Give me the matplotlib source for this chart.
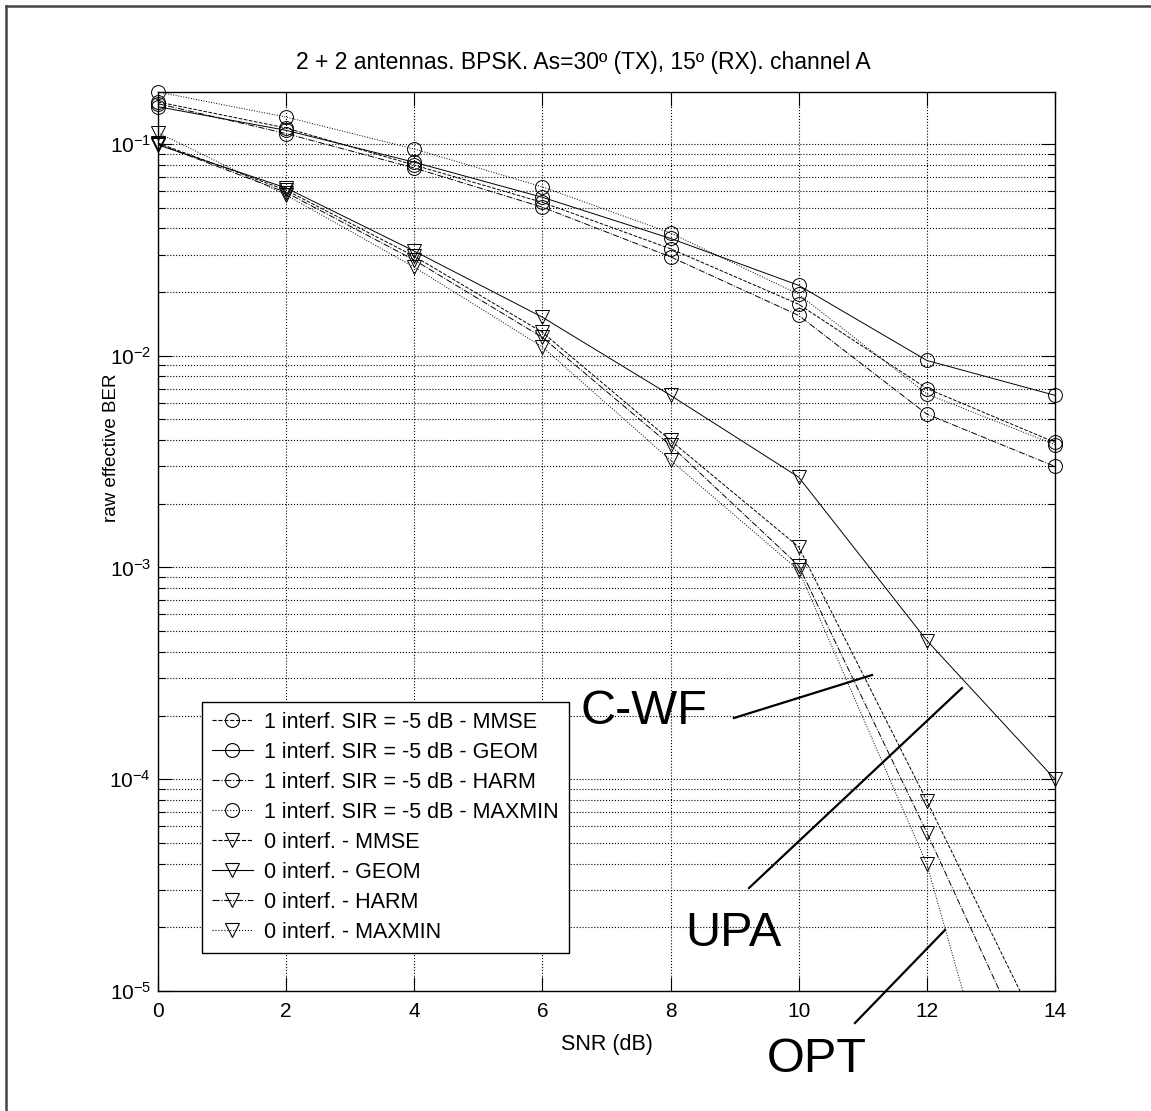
import numpy as np
import matplotlib
matplotlib.use('Agg')
import matplotlib.pyplot as plt
from matplotlib.lines import Line2D

plt.rcParams['font.family'] = ['Liberation Sans', 'DejaVu Sans']
plt.rcParams['mathtext.fontset'] = 'custom'
plt.rcParams['mathtext.rm'] = 'Liberation Sans'

# data
snr = [0, 2, 4, 6, 8, 10, 12, 14]

# 1 interferer, SIR = -5 dB (circles)
i1_mmse = [0.158, 0.119, 0.0795, 0.053, 0.032, 0.0175, 0.0070, 0.0039]
i1_geom = [0.150, 0.116, 0.082, 0.056, 0.0358, 0.0215, 0.0095, 0.0065]
i1_harm = [0.155, 0.112, 0.077, 0.0503, 0.0293, 0.0155, 0.0053, 0.0030]
i1_maxmin = [0.176, 0.134, 0.0947, 0.0627, 0.038, 0.0195, 0.0066, 0.0038]

# no interferer (triangles)
i0_mmse = [0.101, 0.0605, 0.0295, 0.0129, 0.00398, 0.00125, 7.9e-5, 4.6e-6]
i0_geom = [0.099, 0.062, 0.0312, 0.0152, 0.0065, 0.00267, 4.52e-4, 1.0e-4]
i0_harm = [0.100, 0.059, 0.0283, 0.0122, 0.00377, 0.00102, 5.6e-5, 2.7e-6]
i0_maxmin = [0.113, 0.0574, 0.0262, 0.0110, 0.00321, 0.00097, 3.97e-5, 2.9e-7]

labels = ['1 interf. SIR = -5 dB - MMSE', '1 interf. SIR = -5 dB - GEOM',
          '1 interf. SIR = -5 dB - HARM', '1 interf. SIR = -5 dB - MAXMIN',
          '0 interf. - MMSE', '0 interf. - GEOM', '0 interf. - HARM',
          '0 interf. - MAXMIN']
series = [i1_mmse, i1_geom, i1_harm, i1_maxmin, i0_mmse, i0_geom, i0_harm, i0_maxmin]
styles = ['--', '-', '-.', ':'] * 2
markers = ['o'] * 4 + ['v'] * 4

W, H = 1151, 1111
fig = plt.figure(figsize=(W / 100, H / 100), dpi=100)
ax = fig.add_axes([158 / W, 1 - 991 / H, (1055 - 158) / W, (991 - 92) / H])

ymin, ymax = 1e-5, 0.176
handles = []
for y, ls, mk, lab in zip(series, styles, markers, labels):
    y = np.array(y)
    ax.plot(snr, y, ls=ls, color='black', lw=0.7)
    keep = y >= ymin
    ax.plot(np.array(snr)[keep], y[keep], ls='none', marker=mk, ms=10,
            mfc='none', mec='black', mew=0.7, clip_on=False)
    handles.append(Line2D([], [], ls=ls, color='black', lw=0.8, marker=mk,
                          ms=10, mfc='none', mec='black', mew=0.8))

ax.set_yscale('log')
ax.set_xlim(0, 14)
ax.set_ylim(ymin, ymax)
ax.set_xticks(snr)
ax.grid(True, which='major', axis='both', ls=':', color='black', lw=0.8)
ax.grid(True, which='minor', axis='y', ls=':', color='black', lw=0.8)
ax.tick_params(which='both', direction='in', top=True, right=True, labelsize=15)
ax.tick_params(which='major', length=10, width=0.8)
ax.tick_params(axis='x', which='major', pad=8)
ax.tick_params(axis='y', which='major', pad=5)
ax.tick_params(which='minor', length=5, width=0.8)
for s in ax.spines.values():
    s.set_linewidth(1.0)

fig.text(0.507, 1 - 62 / H, '2 + 2 antennas. BPSK. As=30º (TX), 15º (RX). channel A',
         ha='center', va='center', fontsize=16.5)
ax.set_xlabel('SNR (dB)', fontsize=15.5)
ax.xaxis.set_label_coords(0.5, -(1034 - 991) / (991 - 92))
ax.set_ylabel('raw effective BER', fontsize=13.5)
ax.yaxis.set_label_coords(-0.042, (991 - 448) / (991 - 92))

leg = fig.legend(handles, labels, loc='upper left',
                 bbox_to_anchor=(202 / W, 1 - 702 / H), fontsize=15.5,
                 fancybox=False, framealpha=1, edgecolor='black',
                 handlelength=1.9, handletextpad=0.55, labelspacing=0.42,
                 borderpad=0.45, borderaxespad=0)
leg.get_frame().set_linewidth(1.0)

# annotation labels and pointer lines
fig.text(644 / W, 1 - 712 / H, 'C-WF', ha='center', va='center', fontsize=35)
fig.text(733 / W, 1 - 933 / H, 'UPA', ha='center', va='center', fontsize=35)
fig.text(817 / W, 1 - 1060 / H, 'OPT', ha='center', va='center', fontsize=35)
for (x0, y0), (x1, y1) in [((734, 718), (872, 675)),
                           ((749, 888), (962, 688)),
                           ((855, 1023), (945, 930))]:
    fig.add_artist(Line2D([x0 / W, x1 / W], [1 - y0 / H, 1 - y1 / H],
                          color='black', lw=1.6, transform=fig.transFigure))

# outer frame (left and top edges visible)
fig.add_artist(Line2D([6 / W, 6 / W], [0, 1 - 6 / H], color='#444444', lw=1.8,
                      transform=fig.transFigure))
fig.add_artist(Line2D([6 / W, 1], [1 - 6 / H, 1 - 6 / H], color='#444444', lw=1.8,
                      transform=fig.transFigure))

fig.savefig('out.png', dpi=100)
